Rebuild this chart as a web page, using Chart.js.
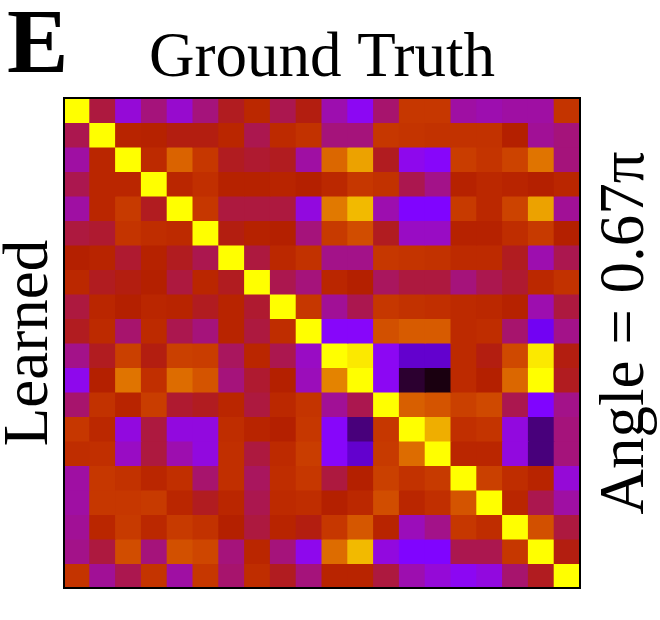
<!DOCTYPE html>
<html>
<head>
<meta charset="utf-8">
<script src="https://cdn.jsdelivr.net/npm/chart.js@4"></script>
<style>
  html, body { margin:0; padding:0; background:#fff; }
  canvas { display:block; }
</style>
</head>
<body>
<canvas id="heat" width="660" height="620"></canvas>
<script>
// valores de la matriz (0..1, mapa gnuplot)
const cols = Array.from({length:20}, (_, i) => 'c' + i);
const rows = Array.from({length:20}, (_, i) => 'r' + i);
const values = [
  [1.00,0.46,0.34,0.42,0.35,0.42,0.48,0.54,0.45,0.49,0.38,0.30,0.43,0.60,0.60,0.39,0.38,0.39,0.39,0.59],
  [0.45,1.00,0.52,0.51,0.49,0.49,0.53,0.45,0.55,0.58,0.42,0.42,0.60,0.59,0.58,0.58,0.58,0.50,0.40,0.42],
  [0.39,0.53,1.00,0.55,0.73,0.60,0.48,0.47,0.48,0.39,0.74,0.86,0.48,0.31,0.28,0.62,0.59,0.64,0.77,0.42],
  [0.45,0.53,0.53,1.00,0.53,0.57,0.51,0.51,0.52,0.50,0.54,0.60,0.58,0.45,0.41,0.51,0.54,0.52,0.50,0.53],
  [0.39,0.53,0.61,0.48,1.00,0.60,0.46,0.46,0.46,0.33,0.78,0.90,0.38,0.25,0.25,0.61,0.54,0.64,0.86,0.40],
  [0.46,0.47,0.59,0.56,0.55,1.00,0.49,0.51,0.50,0.42,0.61,0.67,0.48,0.36,0.36,0.51,0.51,0.56,0.61,0.50],
  [0.50,0.52,0.47,0.51,0.48,0.45,1.00,0.46,0.54,0.58,0.41,0.41,0.60,0.59,0.58,0.55,0.55,0.48,0.38,0.45],
  [0.54,0.48,0.49,0.50,0.46,0.53,0.48,1.00,0.45,0.42,0.53,0.50,0.44,0.46,0.46,0.42,0.45,0.47,0.54,0.58],
  [0.46,0.53,0.50,0.53,0.52,0.48,0.52,0.47,1.00,0.60,0.40,0.45,0.60,0.58,0.57,0.55,0.54,0.51,0.38,0.46],
  [0.48,0.55,0.43,0.55,0.45,0.42,0.52,0.46,0.56,1.00,0.28,0.28,0.68,0.71,0.71,0.55,0.56,0.43,0.20,0.41],
  [0.41,0.48,0.63,0.49,0.63,0.62,0.44,0.53,0.45,0.36,1.00,0.97,0.30,0.15,0.15,0.55,0.49,0.66,0.97,0.49],
  [0.31,0.50,0.77,0.57,0.75,0.69,0.42,0.47,0.50,0.37,0.80,1.00,0.30,0.03,0.01,0.55,0.50,0.74,1.00,0.48],
  [0.43,0.58,0.52,0.62,0.47,0.48,0.53,0.46,0.54,0.59,0.40,0.45,1.00,0.72,0.69,0.63,0.66,0.45,0.25,0.41],
  [0.60,0.54,0.33,0.46,0.33,0.33,0.56,0.52,0.50,0.60,0.28,0.08,0.60,1.00,0.88,0.57,0.59,0.33,0.08,0.42],
  [0.56,0.57,0.36,0.46,0.38,0.33,0.57,0.46,0.55,0.62,0.28,0.15,0.61,0.75,1.00,0.53,0.53,0.33,0.08,0.42],
  [0.39,0.60,0.58,0.53,0.57,0.43,0.57,0.44,0.56,0.60,0.46,0.50,0.63,0.58,0.61,1.00,0.63,0.56,0.52,0.34],
  [0.39,0.60,0.60,0.61,0.53,0.48,0.53,0.45,0.55,0.56,0.50,0.54,0.67,0.53,0.57,0.69,1.00,0.53,0.45,0.39],
  [0.40,0.53,0.61,0.54,0.61,0.58,0.50,0.46,0.52,0.49,0.60,0.70,0.52,0.37,0.41,0.60,0.56,1.00,0.68,0.46],
  [0.41,0.46,0.67,0.42,0.68,0.65,0.42,0.53,0.42,0.31,0.75,0.90,0.33,0.25,0.25,0.45,0.45,0.60,1.00,0.49],
  [0.59,0.40,0.45,0.59,0.39,0.60,0.43,0.56,0.48,0.42,0.52,0.52,0.46,0.38,0.34,0.30,0.33,0.43,0.48,1.00]
];
const panelLabel = 'E';
const titleText = 'Ground Truth';
const leftText = 'Learned';
const rightText = 'Angle = 0.67\u03C0';

// mapa de color tipo gnuplot: r=sqrt(x), g=x^3, b=sin(2*pi*x)
const gnuplot = x => {
  x = Math.max(0, Math.min(1, x));
  const r = Math.round(255 * Math.sqrt(x));
  const g = Math.round(255 * x * x * x);
  const b = Math.round(255 * Math.max(0, Math.sin(2 * Math.PI * x)));
  return `rgb(${r},${g},${b})`;
};

const SERIF = '"Liberation Serif", "DejaVu Serif", serif';

// textos y marco
const decor = {
  id: 'decor',
  afterDraw(chart) {
    const ctx = chart.ctx, a = chart.chartArea;
    ctx.save();
    ctx.strokeStyle = '#000';
    ctx.lineWidth = 2;
    ctx.strokeRect(a.left, a.top, a.right - a.left, a.bottom - a.top);

    ctx.fillStyle = '#000';
    ctx.textBaseline = 'alphabetic';
    ctx.font = 'bold 92px ' + SERIF;
    ctx.textAlign = 'left';
    ctx.fillText(panelLabel, 7, 72);

    ctx.font = '63px ' + SERIF;
    ctx.textAlign = 'center';
    ctx.fillText(titleText, 322, 76);

    ctx.save();
    ctx.translate(47, 343);
    ctx.rotate(-Math.PI / 2);
    ctx.fillText(leftText, 0, 0);
    ctx.restore();

    ctx.save();
    ctx.translate(643, 333);
    ctx.rotate(-Math.PI / 2);
    ctx.fillText(rightText, 0, 0);
    ctx.restore();
    ctx.restore();
  }
};

const datasets = rows.map((r, i) => ({
  label: r,
  data: cols.map(() => [i, i + 1]),
  backgroundColor: values[i].map(gnuplot),
  borderWidth: 0,
  inflateAmount: 0.5,
  grouped: false,
  barPercentage: 1,
  categoryPercentage: 1
}));

new Chart(document.getElementById('heat'), {
  type: 'bar',
  data: { labels: cols, datasets },
  options: {
    responsive: false,
    animation: false,
    layout: { padding: { left: 64, right: 80, top: 98, bottom: 32 } },
    plugins: { legend: { display: false }, tooltip: { enabled: false }, title: { display: false } },
    scales: {
      x: { display: false, offset: true, grid: { display: false } },
      y: { display: false, min: 0, max: 20, reverse: true, grid: { display: false } }
    }
  },
  plugins: [decor]
});
</script>
</body>
</html>
